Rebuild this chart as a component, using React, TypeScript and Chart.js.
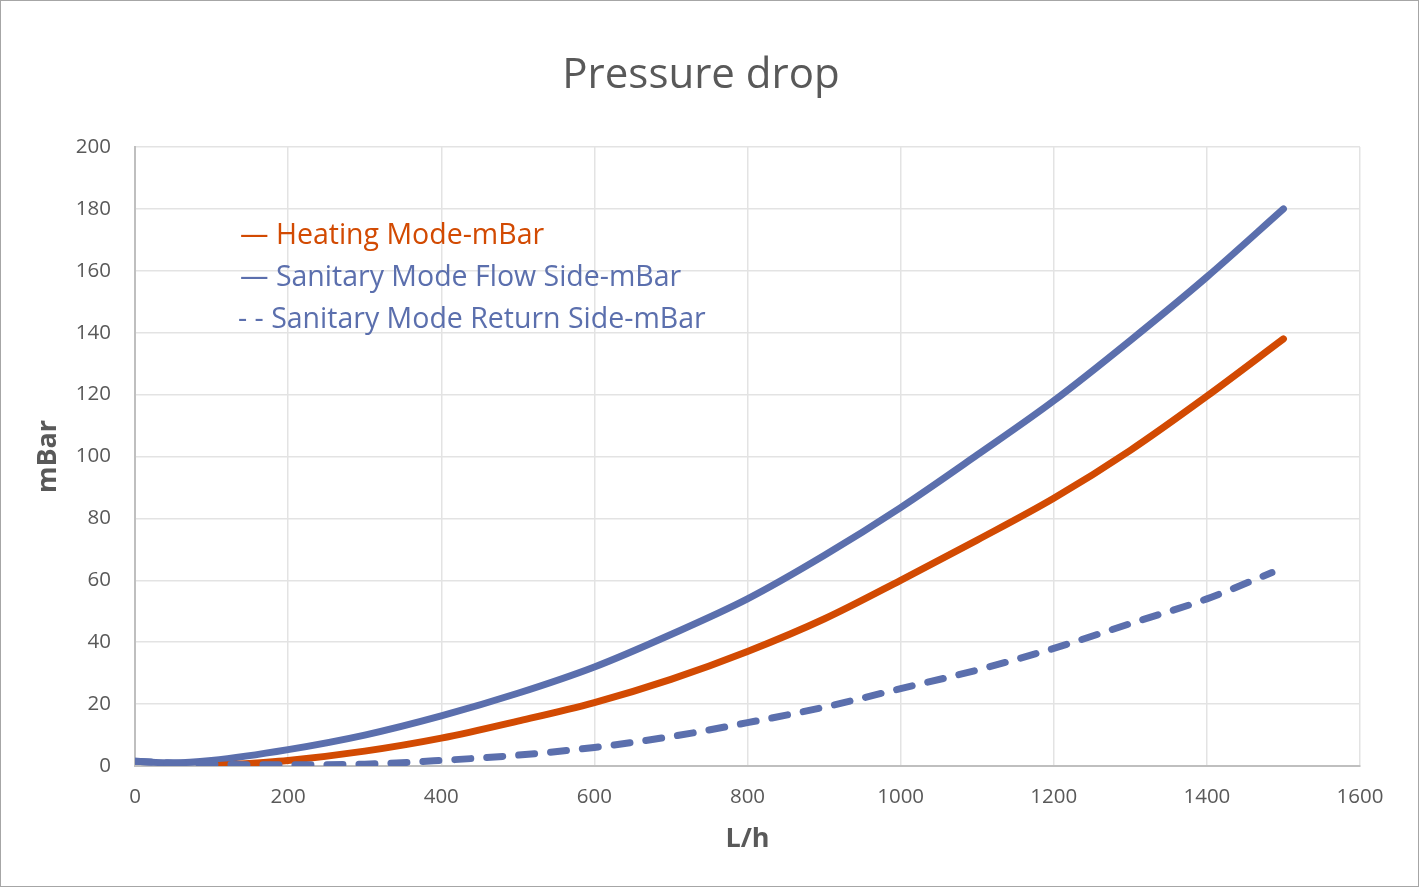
import { useRef, useEffect } from "react";
import { Chart, registerables, type Plugin } from "chart.js";

Chart.register(...registerables);

const FONT = '"Open Sans", "Noto Sans", sans-serif';
const GREY_TEXT = "#595959";
const ORANGE = "#D24A02";
const BLUE = "#5B6FAD";

// flow rate, L/h
const heatingFlow = [100, 200, 300, 400, 500, 600, 700, 800, 900, 1000, 1100, 1200, 1300, 1400, 1500];
const heatingDrop = [0, 1.8, 4.8, 9, 14.5, 20.5, 28, 37, 47.5, 60, 73, 86.5, 102, 119.5, 138];

const sanFlowFlow = [0, 50, 100, 200, 300, 400, 500, 600, 700, 800, 900, 1000, 1100, 1200, 1300, 1400, 1500];
const sanFlowDrop = [1.5, 1, 1.8, 5.3, 10, 16.2, 23.5, 32, 42.5, 54, 68, 83.5, 100.5, 118, 137.5, 158, 180];

const sanReturnFlow = [0, 100, 200, 300, 400, 500, 600, 700, 800, 900, 1000, 1100, 1200, 1300, 1400, 1485];
const sanReturnDrop = [1.5, 0.6, 0.4, 0.6, 1.8, 3.5, 6, 9.5, 14, 19, 25, 31, 38, 46, 54, 62.5];

const legendLines = [
  { text: "— Heating Mode-mBar", color: ORANGE, x: 240, y: 236 },
  { text: "— Sanitary Mode Flow Side-mBar", color: BLUE, x: 240, y: 278 },
  { text: "- - Sanitary Mode Return Side-mBar", color: BLUE, x: 238, y: 320 },
];

const toPoints = (xs: number[], ys: number[]) => xs.map((x, i) => ({ x, y: ys[i] }));

const decor: Plugin = {
  id: "decor",
  afterDraw(chart) {
    const { ctx, width, height } = chart;
    ctx.save();
    ctx.strokeStyle = "#A6A6A6";
    ctx.lineWidth = 1;
    ctx.strokeRect(0.5, 0.5, width - 1, height - 1);

    ctx.fillStyle = GREY_TEXT;
    ctx.font = `42px ${FONT}`;
    ctx.textAlign = "center";
    ctx.textBaseline = "middle";
    ctx.fillText("Pressure drop", 701, 76);

    ctx.textAlign = "left";
    ctx.font = `28.5px ${FONT}`;
    for (const l of legendLines) {
      ctx.fillStyle = l.color;
      ctx.fillText(l.text, l.x, l.y);
    }
    ctx.restore();
  },
};

export default function App() {
  const ref = useRef<HTMLCanvasElement>(null);

  useEffect(() => {
    if (!ref.current) return;
    const line = { borderWidth: 7, pointRadius: 0, borderCapStyle: "round" as const, cubicInterpolationMode: "monotone" as const, fill: false };
    const chart = new Chart(ref.current, {
      type: "line",
      data: {
        datasets: [
          { label: "Sanitary Mode Return Side-mBar", data: toPoints(sanReturnFlow, sanReturnDrop), borderColor: BLUE, borderDash: [16, 16], ...line },
          { label: "Heating Mode-mBar", data: toPoints(heatingFlow, heatingDrop), borderColor: ORANGE, ...line },
          { label: "Sanitary Mode Flow Side-mBar", data: toPoints(sanFlowFlow, sanFlowDrop), borderColor: BLUE, ...line },
        ],
      },
      options: {
        animation: false,
        responsive: true,
        maintainAspectRatio: false,
        layout: { padding: { left: 0, top: 147, right: 59, bottom: 0 } },
        plugins: { legend: { display: false }, tooltip: { enabled: false } },
        scales: {
          x: {
            type: "linear",
            min: 0,
            max: 1600,
            ticks: { stepSize: 200, padding: 19, color: GREY_TEXT, font: { family: FONT, size: 20.5 }, callback: (v) => String(v) },
            grid: { color: "#E3E3E3", lineWidth: 1.5, drawTicks: false },
            border: { color: "#BFBFBF", width: 2 },
            title: { display: true, text: "L/h", color: GREY_TEXT, font: { family: FONT, size: 27, weight: "bold" }, padding: { bottom: 31 } },
            afterFit: (s) => { s.height = 121; },
          },
          y: {
            min: 0,
            max: 200,
            ticks: { stepSize: 20, padding: 24, color: GREY_TEXT, font: { family: FONT, size: 20.5 } },
            grid: { color: "#E3E3E3", lineWidth: 1.5, drawTicks: false },
            border: { color: "#BFBFBF", width: 2 },
            title: { display: true, text: "mBar", color: GREY_TEXT, font: { family: FONT, size: 27, weight: "bold" }, padding: { top: 32 } },
            afterFit: (s) => { s.width = 135; },
          },
        },
      },
      plugins: [decor],
    });
    return () => { chart.destroy(); };
  }, []);

  return (
    <div style={{ position: "absolute", left: 0, top: 0, width: 1419, height: 887, background: "#fff" }}>
      <canvas ref={ref} />
    </div>
  );
}
